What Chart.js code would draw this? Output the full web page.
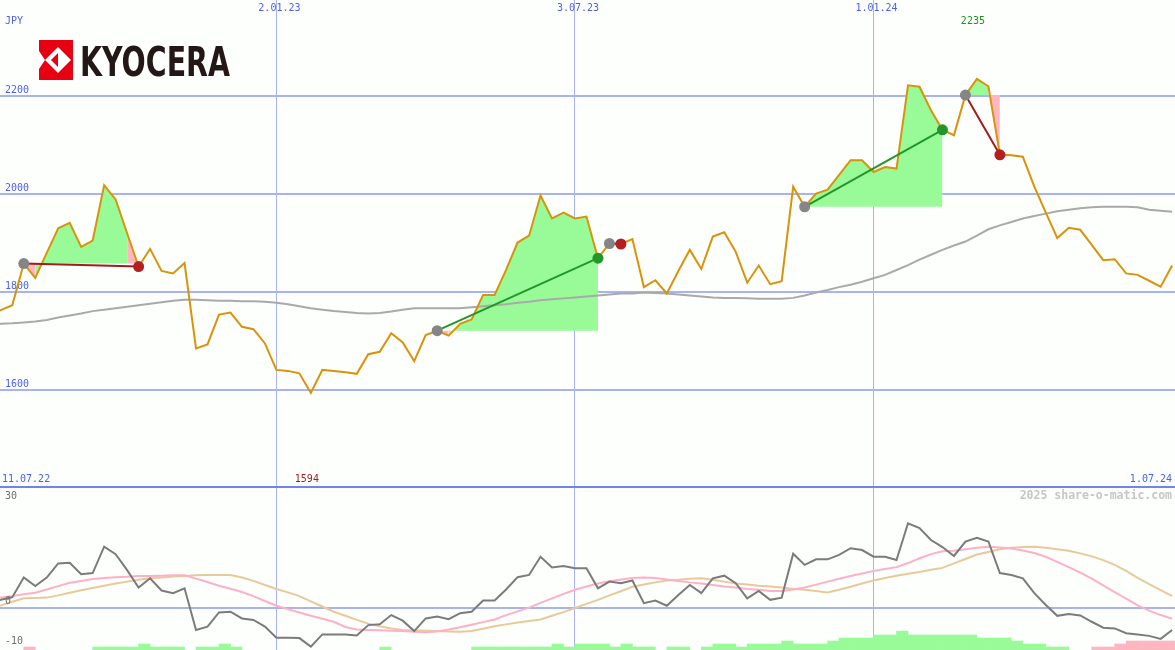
<!DOCTYPE html>
<html>
<head>
<meta charset="utf-8">
<script src="https://cdn.jsdelivr.net/npm/chart.js@4.4.1/dist/chart.umd.min.js"></script>
<style>
  body { margin: 0; background: #fcfffc; }
  canvas { display: block; }
</style>
</head>
<body>
<canvas id="main" width="1175" height="488"></canvas>
<canvas id="osc" width="1175" height="162"></canvas>
<script>
'use strict';

// weekly closes, index = week since 11.07.22
var price = [
  1760, 1763, 1773, 1858, 1829, 1880, 1930, 1941, 1892, 1905,
  2018, 1989, 1920, 1852, 1888, 1843, 1838, 1859, 1685, 1693,
  1754, 1758, 1729, 1724, 1695, 1641, 1639, 1634, 1594, 1641,
  1639, 1636, 1633, 1673, 1678, 1716, 1697, 1659, 1712, 1721,
  1711, 1735, 1744, 1794, 1794, 1845, 1901, 1915, 1997, 1950,
  1962, 1950, 1954, 1869, 1899, 1898, 1908, 1810, 1824, 1797,
  1843, 1886, 1847, 1913, 1922, 1882, 1819, 1854, 1816, 1822,
  2015, 1974, 2001, 2009, 2039, 2069, 2069, 2045, 2055, 2052,
  2222, 2219, 2171, 2131, 2120, 2202, 2235, 2220, 2080, 2079,
  2076, 2015, 1962, 1910, 1931, 1927, 1896, 1865, 1867, 1838,
  1835, 1823, 1811, 1854
];
var avg = [
  1733, 1735, 1736, 1738, 1740, 1743, 1748, 1752, 1756, 1761,
  1764, 1767, 1770, 1773, 1776, 1779, 1782, 1784, 1784, 1783,
  1782, 1782, 1781, 1781, 1780, 1778, 1775, 1771, 1767, 1764,
  1761, 1759, 1757, 1756, 1757, 1760, 1764, 1767, 1767, 1767,
  1767, 1767, 1769, 1771, 1773, 1775, 1778, 1780, 1783, 1785,
  1787, 1789, 1791, 1793, 1795, 1797, 1797, 1799, 1798, 1797,
  1795, 1793, 1791, 1789, 1788, 1788, 1787, 1786, 1786, 1786,
  1788, 1793, 1799, 1804, 1810, 1815, 1821, 1828, 1835, 1845,
  1855, 1866, 1876, 1886, 1895, 1903, 1915, 1928, 1936, 1943,
  1950, 1955, 1960, 1965, 1968, 1971, 1973, 1974, 1974, 1974,
  1973, 1968, 1966, 1964
];
var momentum = [
  1.5, 2.1, 2.8, 8.1, 5.8, 8.1, 11.9, 12.1, 9.0, 9.3,
  16.4, 14.4, 10.1, 5.4, 7.9, 4.6, 3.9, 5.2, -6.0, -5.1,
  -1.3, -1.1, -2.9, -3.3, -5.1, -8.1, -8.1, -8.2, -10.5, -7.2,
  -7.2, -7.2, -7.5, -4.7, -4.5, -2.0, -3.5, -6.3, -2.9, -2.4,
  -3.1, -1.5, -1.1, 1.9, 1.9, 4.9, 8.2, 8.8, 13.7, 10.8,
  11.2, 10.6, 10.6, 5.2, 7.0, 6.6, 7.3, 1.2, 1.9, 0.5,
  3.4, 6.1, 3.9, 7.9, 8.6, 6.6, 2.5, 4.5, 2.1, 2.7,
  14.5, 11.5, 13.0, 13.0, 14.2, 16.0, 15.5, 13.7, 13.7, 12.8,
  22.7, 21.4, 18.2, 16.3, 13.9, 17.8, 18.8, 17.8, 9.3, 8.8,
  7.9, 3.9, 0.7, -2.2, -1.7, -2.1, -3.8, -5.4, -5.6, -6.9,
  -7.2, -7.6, -8.4, -6.0
];
var fastAvg = [
  2.4, 2.7, 3.1, 3.6, 4.0, 4.9, 5.8, 6.7, 7.2, 7.7,
  8.0, 8.2, 8.3, 8.5, 8.5, 8.6, 8.7, 8.7, 7.8, 6.9,
  5.9, 5.1, 4.2, 3.1, 1.8, 0.5, -0.4, -1.3, -2.2, -3.0,
  -3.8, -5.2, -5.9, -6.0, -6.1, -6.2, -6.3, -6.5, -6.6, -6.4,
  -5.9, -5.3, -4.6, -3.9, -3.2, -2.0, -1.0, 0.0, 1.3, 2.5,
  3.7, 4.8, 5.7, 6.5, 7.1, 7.6, 8.0, 8.1, 8.0, 7.6,
  7.2, 6.8, 6.5, 6.1, 5.7, 5.4, 5.0, 4.8, 4.5, 4.5,
  4.9, 5.4, 6.2, 7.0, 7.8, 8.5, 9.2, 9.9, 10.4, 10.9,
  12.0, 13.3, 14.4, 15.2, 15.3, 15.7, 16.1, 16.4, 16.2, 15.9,
  15.4, 14.7, 13.7, 12.3, 10.9, 9.4, 7.8, 6.0, 4.2, 2.4,
  0.6, -0.8, -2.0, -3.0
];
var slowAvg = [
  0.0, 0.6, 1.6, 2.5, 2.6, 2.7, 3.3, 4.0, 4.7, 5.3,
  5.9, 6.5, 7.0, 7.5, 7.9, 8.1, 8.4, 8.5, 8.7, 8.8,
  8.8, 8.8, 8.1, 7.2, 6.1, 5.0, 4.1, 3.1, 1.7, 0.3,
  -1.1, -2.2, -3.3, -4.3, -5.0, -5.6, -6.0, -6.1, -6.2, -6.3,
  -6.4, -6.5, -6.3, -5.7, -5.0, -4.5, -4.0, -3.6, -3.2, -2.2,
  -1.2, -0.1, 1.0, 2.1, 3.3, 4.4, 5.6, 6.2, 6.8, 7.3,
  7.5, 7.8, 7.9, 7.5, 7.0, 6.5, 6.2, 5.9, 5.7, 5.4,
  5.0, 4.8, 4.5, 4.1, 4.8, 5.6, 6.5, 7.3, 8.0, 8.6,
  9.1, 9.6, 10.2, 10.7, 11.9, 13.1, 14.3, 15.0, 15.7, 16.1,
  16.3, 16.4, 16.1, 15.7, 15.3, 14.6, 13.8, 12.8, 11.5, 9.9,
  8.0, 6.3, 4.7, 3.1
];
// trend histogram, + green / - pink
var trend = [
  0, 0, 0, -1, 0, 0, 0, 0, 0, 1,
  1, 1, 1, 2, 1, 1, 1, 0, 1, 1,
  2, 1, 0, 0, 0, 0, 0, 0, 0, 0,
  0, 0, 0, 0, 1, 0, 0, 0, 0, 0,
  0, 0, 1, 1, 1, 1, 1, 1, 1, 2,
  1, 2, 2, 2, 1, 2, 1, 1, 0, 1,
  1, 0, 1, 2, 2, 1, 2, 2, 2, 3,
  2, 2, 2, 3, 4, 4, 4, 5, 5, 6.3,
  5, 5, 5, 5, 5, 5, 4, 4, 4, 3,
  2, 2, 1, 1, 0, 0, -1, -1, -2, -3,
  -3, -3, -3, -3
];

var tradeOpen  = [3, 39, 54, 71, 85];
var tradeClose = [13, 53, 55, 83, 88];

var priceTicks = [1600, 1800, 2000, 2200];
var oscTicks = [30, 0, -10];
var gridWeeks = [25, 51, 77];
var gridDates = ['2.01.23', '3.07.23', '1.01.24'];
var startDate = '11.07.22';
var endDate = '1.07.24';
var currency = 'JPY';
var company = 'KYOCERA';
var credit = '2025 share-o-matic.com';

var BLUE = '#4d5ef0';
var GRID = '#a9b3f2';
var GAIN = '#98fb98';
var LOSS = '#ffb6c1';
var MONO = '"DejaVu Sans Mono", monospace';

var pts = function(arr){
  return arr.map(function(v, i){ return {x: i, y: v}; });
};

var flatten = function(s){
  s.paddingTop = 0; s.paddingBottom = 0; s.paddingLeft = 0; s.paddingRight = 0;
};

var xAxis = function(border){
  return {
    type: 'linear', min: 0.93, max: 103.25, offset: false,
    afterBuildTicks: function(s){ s.ticks = gridWeeks.map(function(v){ return {value: v}; }); },
    afterFit: function(s){ s.height = 0; flatten(s); },
    grid: {color: GRID, lineWidth: 1, drawTicks: false, offset: false},
    ticks: {display: false},
    border: border
  };
};


//
//  MAIN PANEL
//
var buildMainSets = function(){
  var lines = [], fills = [];
  tradeOpen.forEach(function(o, t){
    var c = tradeClose[t];
    var base = price[o];
    var won = price[c] > base;
    lines.push({
      data: [{x: o, y: price[o]}, {x: c, y: price[c]}],
      borderColor: won ? '#23962a' : '#a21c1c',
      borderWidth: 2,
      pointRadius: 5.5,
      pointBorderWidth: 0,
      pointBackgroundColor: ['#858585', won ? '#23962a' : '#b22020'],
      fill: false
    });
    fills.push({
      data: price.slice(o, c + 1).map(function(v, i){ return {x: o + i, y: v}; }),
      borderColor: 'rgba(0,0,0,0)',
      borderWidth: 0,
      pointRadius: 0,
      backgroundColor: GAIN,
      fill: {value: base},
      segment: {
        backgroundColor: function(ctx){ return ctx.p1.parsed.y >= base ? GAIN : LOSS; }
      }
    });
  });
  var sets = lines.slice();
  sets.push({data: pts(price), borderColor: '#d9930b', borderWidth: 2, pointRadius: 0, fill: false});
  sets.push({data: pts(avg), borderColor: '#a9a9a9', borderWidth: 2, pointRadius: 0, fill: false});
  return sets.concat(fills);
};

var drawLogo = function(ctx){
  ctx.save();
  ctx.fillStyle = '#e60012';
  ctx.fillRect(39, 40, 34, 40);
  ctx.fillStyle = '#ffffff';
  ctx.beginPath();
  ctx.moveTo(58, 47); ctx.lineTo(71, 60); ctx.lineTo(58, 73); ctx.lineTo(45, 60);
  ctx.closePath(); ctx.fill();
  ctx.beginPath();
  ctx.moveTo(39, 51); ctx.lineTo(45, 60); ctx.lineTo(39, 69);
  ctx.closePath(); ctx.fill();
  ctx.fillStyle = '#e60012';
  ctx.beginPath();
  ctx.moveTo(58, 53); ctx.lineTo(58, 67); ctx.lineTo(51, 60);
  ctx.closePath(); ctx.fill();

  ctx.fillStyle = '#231815';
  ctx.font = 'bold 41px "DejaVu Sans"';
  ctx.textBaseline = 'alphabetic';
  ctx.textAlign = 'left';
  var w = ctx.measureText(company).width;
  ctx.translate(80, 76);
  ctx.scale(150 / w, 1);
  ctx.fillText(company, 0, 0);
  ctx.restore();
};

var mainText = {
  id: 'mainText',
  afterDraw: function(chart){
    var ctx = chart.ctx, xs = chart.scales.x;
    ctx.save();
    ctx.font = '10px ' + MONO;
    ctx.textBaseline = 'middle';
    ctx.fillStyle = BLUE;
    ctx.textAlign = 'center';
    gridWeeks.forEach(function(w, i){
      ctx.fillText(gridDates[i], xs.getPixelForValue(w) + 3, 8);
    });
    ctx.textAlign = 'left';
    ctx.fillText(currency, 5, 21);
    ctx.fillText(startDate, 2, 479);
    ctx.textAlign = 'right';
    ctx.fillText(endDate, 1172, 479);

    var hi = Math.max.apply(null, price), lo = Math.min.apply(null, price);
    ctx.textAlign = 'center';
    ctx.fillStyle = '#1f921f';
    ctx.fillText(String(hi), xs.getPixelForValue(price.indexOf(hi)) - 4, 21);
    ctx.fillStyle = '#9c1c1c';
    ctx.fillText(String(lo), xs.getPixelForValue(price.indexOf(lo)) - 4, 479);
    ctx.restore();
    drawLogo(ctx);
  }
};

var createMain = function(){
  new Chart(document.getElementById('main'), {
    type: 'line',
    data: {datasets: buildMainSets()},
    options: {
      responsive: false,
      animation: false,
      events: [],
      layout: {autoPadding: false, padding: {left: 0, right: 0, top: 0, bottom: 1}},
      elements: {line: {tension: 0}},
      plugins: {legend: {display: false}, tooltip: {enabled: false}},
      scales: {
        x: xAxis({display: true, color: '#7382ef', width: 2}),
        y: {
          min: 1402, max: 2396,
          afterBuildTicks: function(s){ s.ticks = priceTicks.map(function(v){ return {value: v}; }); },
          afterFit: function(s){ s.width = 0; flatten(s); },
          border: {display: false},
          grid: {color: GRID, lineWidth: 2, drawTicks: false},
          ticks: {
            mirror: true, padding: 5, labelOffset: -6, color: BLUE,
            font: {family: 'DejaVu Sans Mono', size: 10},
            callback: function(v){ return String(v); }
          }
        }
      }
    },
    plugins: [mainText]
  });
};


//
//  OSCILLATOR PANEL
//
var oscText = {
  id: 'oscText',
  afterDraw: function(chart){
    var ctx = chart.ctx, ys = chart.scales.y;
    var shift = [0, -6, -3];
    ctx.save();
    ctx.font = '10px ' + MONO;
    ctx.textBaseline = 'middle';
    ctx.textAlign = 'left';
    ctx.fillStyle = '#6e6e6e';
    oscTicks.forEach(function(v, i){
      ctx.fillText(String(v), 5, ys.getPixelForValue(v) + shift[i]);
    });
    ctx.font = 'bold 11.5px ' + MONO;
    ctx.textAlign = 'right';
    ctx.fillStyle = '#c6c6c6';
    ctx.fillText(credit, 1172, 8);
    ctx.restore();
  }
};

var createOsc = function(){
  var up = trend.map(function(v, i){ return {x: i + 0.5, y: v > 0 ? v : null}; });
  var down = trend.map(function(v, i){ return {x: i + 0.5, y: v < 0 ? -v : null}; });
  var bar = {type: 'bar', yAxisID: 'yb', grouped: false, barPercentage: 1, categoryPercentage: 1, borderWidth: 0};

  new Chart(document.getElementById('osc'), {
    type: 'line',
    data: {
      datasets: [
        {data: pts(momentum), borderColor: '#7b7b7b', borderWidth: 2, pointRadius: 0},
        {data: pts(fastAvg), borderColor: '#ffb0c6', borderWidth: 2, pointRadius: 0},
        {data: pts(slowAvg), borderColor: '#e8c99b', borderWidth: 2, pointRadius: 0},
        Object.assign({data: up, backgroundColor: GAIN}, bar),
        Object.assign({data: down, backgroundColor: LOSS}, bar)
      ]
    },
    options: {
      responsive: false,
      animation: false,
      events: [],
      layout: {autoPadding: false, padding: 0},
      elements: {line: {tension: 0}},
      plugins: {legend: {display: false}, tooltip: {enabled: false}},
      scales: {
        x: xAxis({display: false}),
        y: {
          min: -11.4, max: 32.2,
          afterBuildTicks: function(s){ s.ticks = oscTicks.map(function(v){ return {value: v}; }); },
          afterFit: function(s){ s.width = 0; flatten(s); },
          border: {display: false},
          grid: {
            lineWidth: 2, drawTicks: false,
            color: function(c){ return c.tick && c.tick.value === 0 ? GRID : 'rgba(0,0,0,0)'; }
          },
          ticks: {display: false}
        },
        yb: {min: 0, max: 54, display: false}
      }
    },
    plugins: [oscText]
  });
};


!function(){
  createMain();
  createOsc();
}();
</script>
</body>
</html>
